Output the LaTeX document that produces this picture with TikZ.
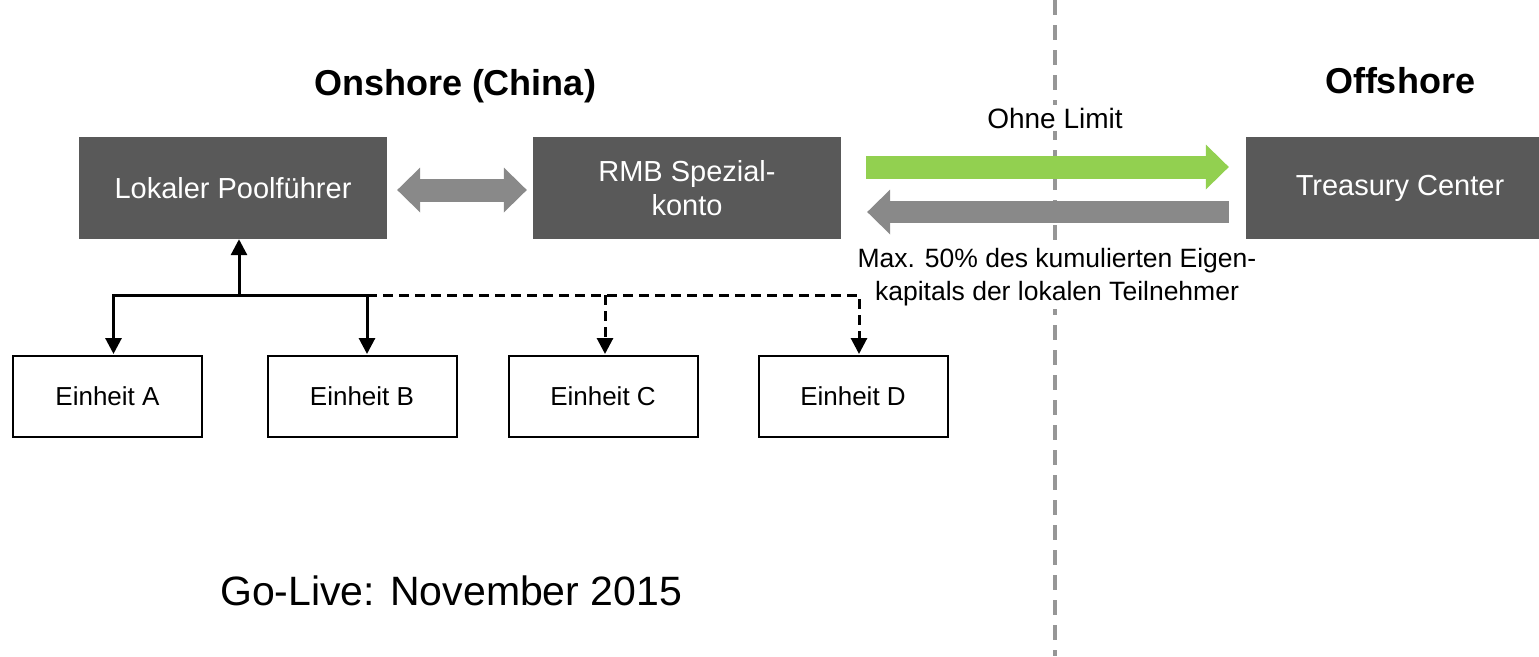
\documentclass[tikz,border=0pt]{standalone}
\usepackage{fontspec}
\setmainfont{Liberation Sans}
\usetikzlibrary{arrows.meta}
\definecolor{boxgray}{RGB}{89,89,89}
\definecolor{arrowgray}{RGB}{137,137,137}
\definecolor{flowgreen}{RGB}{146,208,80}
\definecolor{linegray}{RGB}{150,150,150}
\tikzset{
  darkbox/.style={fill=boxgray, text=white, minimum width=308pt, minimum height=102pt, inner sep=0pt, align=center, font=\fontsize{29}{34}\selectfont},
  unitbox/.style={draw, line width=2pt, minimum width=189pt, minimum height=81pt, inner sep=0pt, font=\fontsize{26}{31}\selectfont},
  heading/.style={anchor=base, inner sep=0pt, font=\fontsize{36}{40}\selectfont\bfseries},
  note/.style={fill=white, inner sep=3pt, align=center, font=\fontsize{26.5}{33}\selectfont},
  link/.style={line width=3pt, ->, shorten >=1pt},
  fathead/.tip={Triangle[length=23pt, width=45pt, line width=0pt]},
}
\begin{document}
\begin{tikzpicture}[x=1pt, y=-1pt, >={Triangle[length=16pt, width=16pt]}]
    \useasboundingbox (0,0) rectangle (1539,656);
    \draw[linegray, line width=4pt, dash pattern=on 15pt off 10pt] (1055,0) -- (1055,656);
    \node[heading] (onshore) at (455,95) {Onshore (China)};
    \node[heading] (offshore) at (1400,93) {Offshore};
    \node[darkbox] (pool) at (233,188) {Lokaler Poolführer};
    \node[darkbox] (rmb) at (687,188) {RMB Spezial-\\konto};
    \node[darkbox] (tc) at (1400,188) {Treasury Center};
    \foreach \u/\x in {A/107.5, B/362, C/603, D/853}
        \node[unitbox] (unit\u) at (\x,396.5) {Einheit \u};
    \draw[arrowgray, line width=23pt, fathead-fathead, shorten <=10pt, shorten >=6pt] ([yshift=-2pt]pool.east) -- ([yshift=-2pt]rmb.west);
    \draw[flowgreen, line width=23pt, -fathead, shorten <=25pt, shorten >=17pt] ([yshift=21pt]rmb.east) -- ([yshift=21pt]tc.west);
    \draw[arrowgray, line width=22pt, -fathead, shorten <=17pt, shorten >=26pt] ([yshift=-24pt]tc.west) -- ([yshift=-24pt]rmb.east);
    \node[note, font=\fontsize{28}{33}\selectfont] (nolimit) at (1055,118) {Ohne Limit};
    \node[note] (maxnote) at (1057,277) {Max. 50\% des kumulierten Eigen-\\kapitals der lokalen Teilnehmer};
    \coordinate (bus) at (239,295);
    \draw[link, shorten >=0pt] (bus) -- (bus |- pool.south);
    \draw[link] (bus) -| ([xshift=6pt]unitA.north);
    \draw[link] (bus) -| ([xshift=5pt]unitB.north);
    \draw[link, dash pattern=on 10pt off 6pt] ([xshift=5pt]unitB.north |- bus) -| ([xshift=6pt]unitD.north);
    \draw[link, dash pattern=on 10pt off 6pt] ([xshift=2pt]unitC.north |- bus) -- ([xshift=2pt]unitC.north);
    \node[anchor=base west, inner sep=0pt, font=\fontsize{41}{48}\selectfont] (golive) at (220,605) {Go-Live: November 2015};
\end{tikzpicture}
\end{document}
